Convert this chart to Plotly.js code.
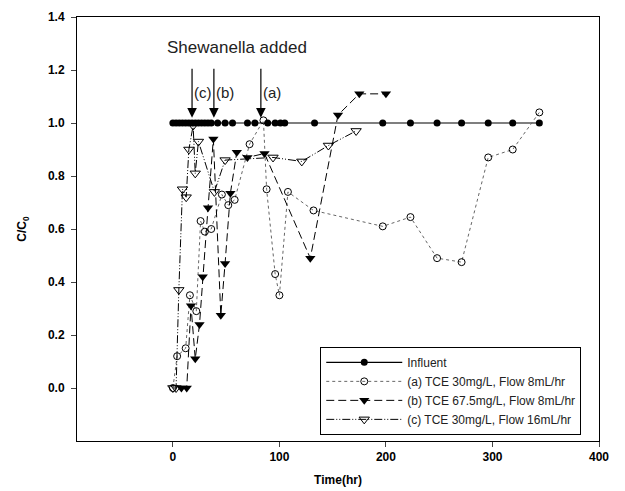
<!DOCTYPE html>
<html>
<head>
<meta charset="utf-8">
<script src="https://cdn.plot.ly/plotly-3.0.1.min.js"></script>
<style>html,body{margin:0;padding:0;background:#fff;}#chart{width:625px;height:491px;}</style>
</head>
<body>
<div id="chart"></div>
<script>
// Influent
const influentX = [0,3,6,9,12,15,18,21,24,27,30,33,36,42,49,56,70,77,89,96,101,105,133,197,223,248,271,296,319,344];
const influentY = influentX.map(() => 1.0);
// (a) TCE 30mg/L, Flow 8mL/hr
const aX = [0,4,12,16,22,26,30,36,46,52,58,72,85,88,96,100,108,132,197,223,248,271,296,319,344];
const aY = [0,0.12,0.15,0.35,0.29,0.63,0.59,0.60,0.73,0.69,0.71,0.92,1.01,0.75,0.43,0.35,0.74,0.67,0.61,0.645,0.49,0.475,0.87,0.90,1.04];
// (b) TCE 67.5mg/L, Flow 8mL/hr
const bX = [8,13,17,21,25,28,33,38,45,49,54,60,70,86,129,155,175,200];
const bY = [0,0,0.31,0.11,0.24,0.42,0.68,0.94,0.275,0.47,0.735,0.89,0.87,0.885,0.49,1.03,1.11,1.11];
// (c) TCE 30mg/L, Flow 16mL/hr
const cX = [0,3,5.6,9,12.5,15,19,21,24,39,49,94,121,146,172];
const cY = [0,0,0.37,0.75,0.72,0.90,0.99,0.81,0.93,0.74,0.86,0.87,0.855,0.915,0.97];

const names = ["Influent","(a) TCE 30mg/L, Flow 8mL/hr","(b) TCE 67.5mg/L, Flow 8mL/hr","(c) TCE 30mg/L, Flow 16mL/hr"];
const arrowX = [18, 38.5, 82.6];
const arrowLabels = ["(c)","(b)","(a)"];

const FONT = "Liberation Sans, Arial, sans-serif";

const traces = [
  {x: influentX, y: influentY, name: names[0], mode: "lines+markers",
   line: {color: "#000", width: 1.2},
   marker: {symbol: "circle", size: 7, color: "#000"}},
  {x: aX, y: aY, name: names[1], mode: "lines+markers",
   line: {color: "#666", width: 1, dash: "dot"},
   marker: {symbol: "circle-open", size: 7, color: "#000", line: {width: 1}}},
  {x: bX, y: bY, name: names[2], mode: "lines+markers",
   line: {color: "#000", width: 1, dash: "8px,4px"},
   marker: {symbol: "triangle-down", size: 9, color: "#000"}},
  {x: cX, y: cY, name: names[3], mode: "lines+markers",
   line: {color: "#000", width: 1, dash: "8px,2px,1px,2px,1px,2px"},
   marker: {symbol: "triangle-down-open", size: 9, color: "#000", line: {width: 1}}}
];

const annotations = [{
  x: 60, y: 1.285, xref: "x", yref: "y", text: "Shewanella added", showarrow: false,
  font: {family: FONT, size: 17, color: "#222"}
}];
arrowX.forEach((ax, i) => {
  annotations.push({x: ax, y: 1.02, ax: ax, ay: 1.21, xref: "x", yref: "y", axref: "x", ayref: "y",
    text: "", showarrow: true, arrowhead: 2, arrowsize: 1.6, arrowwidth: 1.2, arrowcolor: "#000"});
  annotations.push({x: ax, y: 1.117, xref: "x", yref: "y", xanchor: "left", xshift: 0,
    text: arrowLabels[i], showarrow: false,
    font: {family: FONT, size: 15, color: "#222"}});
});

const layout = {
  width: 625, height: 491,
  margin: {l: 77, r: 26, t: 17, b: 50},
  paper_bgcolor: "#fff", plot_bgcolor: "#fff",
  font: {family: FONT, size: 12, color: "#000"},
  showlegend: true,
  legend: {x: 0.466, y: 0.222, xanchor: "left", yanchor: "top",
    bordercolor: "#000", borderwidth: 1, bgcolor: "#fff", itemwidth: 76,
    font: {size: 12, color: "#222"}, tracegroupgap: 0},
  xaxis: {range: [-90, 400], tickvals: [0,100,200,300,400], ticks: "outside", ticklen: 5,
    showline: true, linecolor: "#000", linewidth: 1, mirror: true, showgrid: false, zeroline: false,
    tickfont: {size: 12, weight: "bold"},
    title: {text: "Time(hr)", font: {size: 12, weight: "bold"}, standoff: 12}},
  yaxis: {range: [-0.2, 1.4], tickvals: [0,0.2,0.4,0.6,0.8,1.0,1.2,1.4], tickformat: ".1f",
    ticks: "outside", ticklen: 5, ticklabelstandoff: 4,
    showline: true, linecolor: "#000", linewidth: 1, mirror: true, showgrid: false, zeroline: false,
    tickfont: {size: 12, weight: "bold"},
    title: {text: "C/C<sub>0</sub>", font: {size: 12, weight: "bold"}, standoff: 18}},
  annotations: annotations
};

Plotly.newPlot("chart", traces, layout, {displayModeBar: false, staticPlot: true});
</script>
</body>
</html>
